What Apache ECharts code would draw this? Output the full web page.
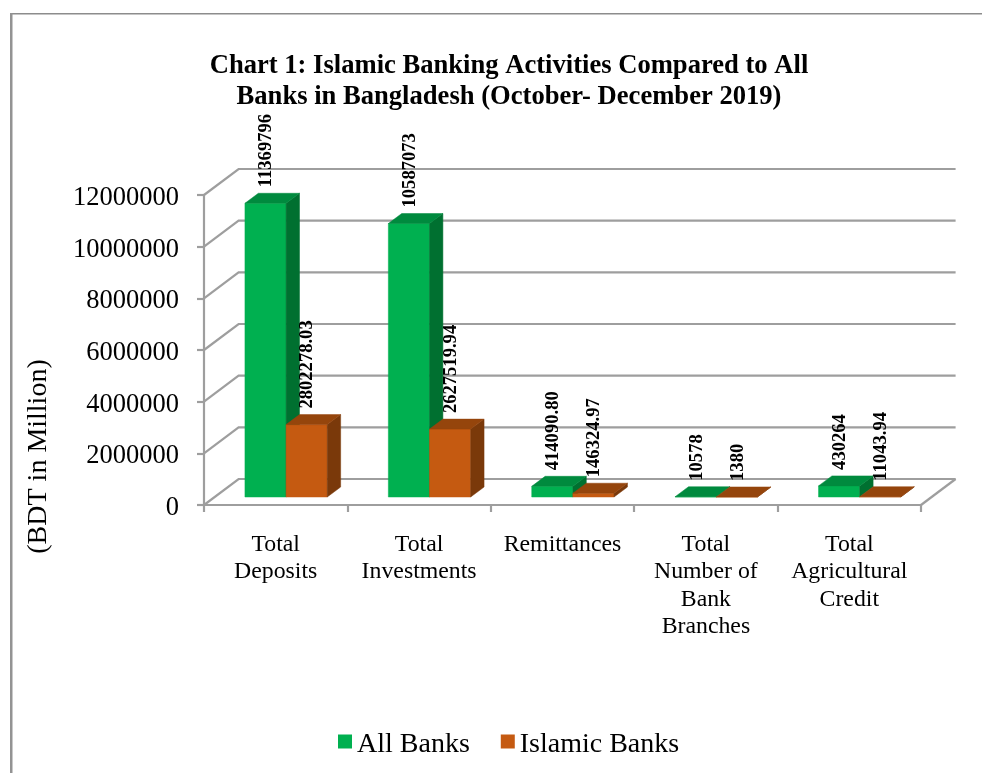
<!DOCTYPE html>
<html>
<head>
<meta charset="utf-8">
<style>html,body{margin:0;padding:0;background:#fff}#chart{width:982px;height:773px}</style>
<script src="https://cdn.jsdelivr.net/npm/echarts@6/dist/echarts.min.js"></script>
</head>
<body>
<div id="chart"></div>
<script>
// Islamic banking activities compared with all banks, Oct-Dec 2019
const categories = ['Total\nDeposits', 'Total\nInvestments', 'Remittances', 'Total\nNumber of\nBank\nBranches', 'Total\nAgricultural\nCredit'];
const allBanks = [11369796, 10587073, 414090.80, 10578, 430264];
const islamicBanks = [2802278.03, 2627519.94, 146324.97, 1380, 11043.94];
const allBanksLabels = ['11369796', '10587073', '414090.80', '10578', '430264'];
const islamicBanksLabels = ['2802278.03', '2627519.94', '146324.97', '1380', '11043.94'];
const yTicks = [0, 2000000, 4000000, 6000000, 8000000, 10000000, 12000000];

const SERIF = '"Liberation Serif", "Times New Roman", serif';
const GRID_COLOR = '#9e9e9e';

// Oblique projection used for the pseudo-3D look
const WALL_DX = 34.6, WALL_DY = -26;   // floor front edge to back wall
const BAR_DX = 10.4, BAR_DY = -8;      // floor front edge to bar front face
const BAR_DEPTH_X = 13.4, BAR_DEPTH_Y = -10;
const BAR_BAND_RATIO = 0.287;

function poly(points, fill) {
  return { type: 'polygon', shape: { points }, style: { fill, stroke: fill, lineWidth: 0.5 } };
}

// One 3D column: front, top and side faces plus a rotated value label
function columnRenderer(slot, labels, colors) {
  return function (params, api) {
    const base = api.coord([api.value(0), 0]);
    const top = api.coord([api.value(0), api.value(1)]);
    const w = api.size([1, 0])[0] * BAR_BAND_RATIO;
    const x0 = base[0] + BAR_DX + slot * w;
    const x1 = x0 + w;
    const yb = base[1] + BAR_DY;
    const yt = top[1] + BAR_DY;
    const dx = BAR_DEPTH_X, dy = BAR_DEPTH_Y;
    return {
      type: 'group',
      children: [
        poly([[x0, yb], [x1, yb], [x1, yt], [x0, yt]], colors.front),
        poly([[x1, yb], [x1 + dx, yb + dy], [x1 + dx, yt + dy], [x1, yt]], colors.side),
        poly([[x0, yt], [x1, yt], [x1 + dx, yt + dy], [x0 + dx, yt + dy]], colors.top),
        {
          type: 'text',
          x: (x0 + x1) / 2 + 1,
          y: yt - 16,
          rotation: Math.PI / 2,
          style: {
            text: labels[params.dataIndex],
            font: 'bold 18.6px ' + SERIF,
            fill: '#000',
            align: 'left',
            verticalAlign: 'middle'
          }
        }
      ]
    };
  };
}

// Back-wall gridline with its diagonal running down to the value axis
function wallRenderer(params, api) {
  const cs = params.coordSys;
  const y = api.coord([0, api.value(0)])[1];
  const shape = {
    points: [[cs.x, y], [cs.x + WALL_DX, y + WALL_DY], [cs.x + cs.width + WALL_DX, y + WALL_DY]]
  };
  return { type: 'polyline', shape, style: { fill: null, stroke: GRID_COLOR, lineWidth: 2.2 } };
}

// Right-hand edge of the floor
function floorEdgeRenderer(params, api) {
  const cs = params.coordSys;
  const y = api.coord([0, 0])[1];
  const xr = cs.x + cs.width;
  return {
    type: 'line',
    shape: { x1: xr, y1: y, x2: xr + WALL_DX, y2: y + WALL_DY },
    style: { stroke: GRID_COLOR, lineWidth: 2.2 }
  };
}

const chart = echarts.init(document.getElementById('chart'), null, { renderer: 'canvas' });
chart.setOption({
  animation: false,
  backgroundColor: '#fff',
  title: {
    text: 'Chart 1: Islamic Banking Activities Compared to All\nBanks in Bangladesh (October- December 2019)',
    left: 504,
    top: 46,
    textAlign: 'center',
    textStyle: { fontFamily: SERIF, fontWeight: 'bold', fontSize: 26.6, lineHeight: 31, color: '#000' }
  },
  legend: {
    data: ['All Banks', 'Islamic Banks'],
    left: 338,
    top: 730.5,
    padding: 0,
    itemWidth: 14,
    itemHeight: 14,
    itemGap: 31,
    icon: 'rect',
    formatter: name => `{t|${name}}`,
    textStyle: {
      rich: { t: { fontFamily: SERIF, fontSize: 28, color: '#000', padding: [6, 0, 0, 0] } }
    }
  },
  grid: { left: 204, top: 195, width: 717, height: 310 },
  xAxis: {
    type: 'category',
    data: categories,
    axisLine: { lineStyle: { color: GRID_COLOR, width: 2.2 } },
    axisTick: { show: true, alignWithLabel: false, length: 7, lineStyle: { color: GRID_COLOR, width: 2.2 } },
    axisLabel: { color: '#000', fontFamily: SERIF, fontSize: 23.8, lineHeight: 27.5, margin: 25.5, interval: 0 }
  },
  yAxis: {
    type: 'value',
    min: 0,
    max: 12000000,
    interval: 2000000,
    splitLine: { show: false },
    axisLine: { show: true, lineStyle: { color: GRID_COLOR, width: 2.2 } },
    axisTick: { show: true, length: 7, lineStyle: { color: GRID_COLOR, width: 2.2 } },
    axisLabel: {
      margin: 25,
      formatter: v => `{v|${v}}`,
      rich: { v: { color: '#000', fontFamily: SERIF, fontSize: 26.5, padding: [6, 0, 0, 0] } }
    }
  },
  graphic: [
    // Outer frame, top and left edges only
    { type: 'rect', shape: { x: 10, y: 13, width: 972, height: 1.5 }, style: { fill: '#8c8c8c' } },
    { type: 'rect', shape: { x: 10, y: 13, width: 2.5, height: 760 }, style: { fill: '#939393' } },
    {
      type: 'text',
      x: 38.5,
      y: 456.5,
      rotation: Math.PI / 2,
      style: {
        text: '(BDT in Million)',
        font: '28px ' + SERIF,
        fill: '#000',
        align: 'center',
        verticalAlign: 'middle'
      }
    }
  ],
  series: [
    { type: 'custom', name: 'walls', z: 1, silent: true, renderItem: wallRenderer, data: yTicks.map(t => [t]), encode: { y: 0 } },
    { type: 'custom', name: 'floorEdge', z: 1, silent: true, renderItem: floorEdgeRenderer, data: [[0]], encode: { y: 0 } },
    {
      type: 'custom',
      name: 'All Banks',
      z: 3,
      itemStyle: { color: '#00b050' },
      renderItem: columnRenderer(-1, allBanksLabels, { front: '#00b050', top: '#008a3e', side: '#007030' }),
      data: allBanks.map((v, i) => [i, v]),
      encode: { x: 0, y: 1 }
    },
    {
      type: 'custom',
      name: 'Islamic Banks',
      z: 3,
      itemStyle: { color: '#c55a11' },
      renderItem: columnRenderer(0, islamicBanksLabels, { front: '#c55a11', top: '#95450c', side: '#7a390a' }),
      data: islamicBanks.map((v, i) => [i, v]),
      encode: { x: 0, y: 1 }
    }
  ]
});
</script>
</body>
</html>
